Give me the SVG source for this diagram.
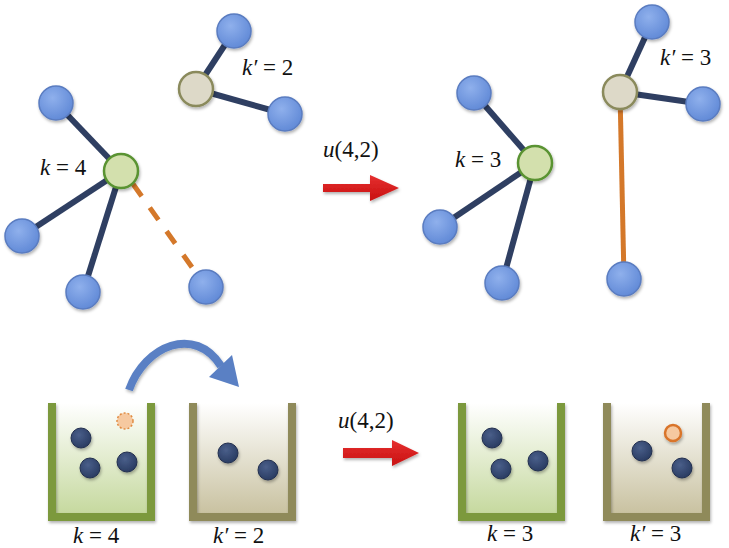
<svg xmlns="http://www.w3.org/2000/svg" width="729" height="548" viewBox="0 0 729 548">
<defs>
<style>
.edge{stroke:#2f3f62;stroke-width:6;fill:none}
.moved{stroke:#d4782a;stroke-width:5;fill:none}
.blue{fill:url(#gBlue);stroke:#5a7cc0;stroke-width:1.5;filter:url(#sh)}
.green{fill:#d3e0ad;stroke:#5a9332;stroke-width:2.5;filter:url(#sh)}
.beige{fill:#ddd9c8;stroke:#8a8a5c;stroke-width:2.5;filter:url(#sh)}
.ball{fill:url(#gBall);stroke:#22304f;stroke-width:1;filter:url(#sh)}
.lbl{font-family:"Liberation Serif","DejaVu Serif",serif;font-size:23px;fill:#111}
.it{font-style:italic}
.wallG{fill:#7b993e;filter:url(#sh)}
.wallO{fill:#8f8a5a;filter:url(#sh)}
.red{fill:url(#gRed);filter:url(#sh)}
</style>
<radialGradient id="gBlue" cx="0.4" cy="0.35" r="0.7">
<stop offset="0" stop-color="#8fb0ec"/>
<stop offset="1" stop-color="#5f88d6"/>
</radialGradient>
<radialGradient id="gBall" cx="0.4" cy="0.35" r="0.7">
<stop offset="0" stop-color="#4a5f8a"/>
<stop offset="1" stop-color="#283a60"/>
</radialGradient>
<linearGradient id="gFillG" x1="0" y1="0" x2="0" y2="1">
<stop offset="0" stop-color="#ffffff"/>
<stop offset="1" stop-color="#c6d99f"/>
</linearGradient>
<linearGradient id="gFillO" x1="0" y1="0" x2="0" y2="1">
<stop offset="0" stop-color="#ffffff"/>
<stop offset="1" stop-color="#c9c2a1"/>
</linearGradient>
<linearGradient id="gRed" x1="0" y1="0" x2="0" y2="1">
<stop offset="0" stop-color="#e63030"/>
<stop offset="1" stop-color="#c81010"/>
</linearGradient>
<filter id="sh" x="-30%" y="-30%" width="160%" height="160%">
<feDropShadow dx="1" dy="2" stdDeviation="1.5" flood-color="#000" flood-opacity="0.3"/>
</filter>
</defs>
<rect width="729" height="548" fill="#ffffff"/>

<g id="connectors">
<line class="edge" x1="196" y1="89" x2="234" y2="31"/>
<line class="edge" x1="196" y1="89" x2="285" y2="114"/>
<line class="edge" x1="121" y1="171" x2="56" y2="103"/>
<line class="edge" x1="121" y1="171" x2="22" y2="236"/>
<line class="edge" x1="121" y1="171" x2="83" y2="292"/>
<line class="moved" x1="133" y1="184" x2="206" y2="287" stroke-dasharray="15,14"/>
<line class="edge" x1="620" y1="92" x2="652" y2="22"/>
<line class="edge" x1="620" y1="92" x2="703" y2="104"/>
<line class="moved" x1="620" y1="92" x2="624" y2="279"/>
<line class="edge" x1="535" y1="163" x2="474" y2="93"/>
<line class="edge" x1="535" y1="163" x2="440" y2="227"/>
<line class="edge" x1="535" y1="163" x2="502" y2="283"/>
</g>

<g id="node-before-kprime">
<circle class="blue" cx="234" cy="31" r="17"/>
<circle class="blue" cx="285" cy="114" r="17"/>
<circle class="beige" cx="196" cy="89" r="17"/>
<text class="lbl" x="242" y="75"><tspan class="it">k′</tspan> = 2</text>
</g>
<g id="node-before-k">
<circle class="blue" cx="56" cy="103" r="17"/>
<circle class="blue" cx="22" cy="236" r="17"/>
<circle class="blue" cx="83" cy="292" r="17"/>
<circle class="blue" cx="206" cy="287" r="17"/>
<circle class="green" cx="121" cy="171" r="17"/>
<text class="lbl" x="40" y="175"><tspan class="it">k</tspan> = 4</text>
</g>
<g id="node-after-k">
<circle class="blue" cx="474" cy="93" r="17"/>
<circle class="blue" cx="440" cy="227" r="17"/>
<circle class="blue" cx="502" cy="283" r="17"/>
<circle class="green" cx="535" cy="163" r="17"/>
<text class="lbl" x="455" y="167"><tspan class="it">k</tspan> = 3</text>
</g>
<g id="node-after-kprime">
<circle class="blue" cx="652" cy="22" r="17"/>
<circle class="blue" cx="703" cy="104" r="17"/>
<circle class="blue" cx="624" cy="279" r="17"/>
<circle class="beige" cx="620" cy="92" r="17"/>
<text class="lbl" x="660" y="65"><tspan class="it">k′</tspan> = 3</text>
</g>

<g id="arrow-top">
<text class="lbl" x="323" y="157"><tspan class="it">u</tspan>(4,2)</text>
<polygon class="red" points="323,184 370,184 370,175 399,188 370,201 370,192 323,192"/>
</g>

<g id="bin-left-before">
<rect x="56" y="403" width="91" height="110" fill="url(#gFillG)"/>
<path class="wallG" d="M48,403 h8 v110 h91 v-110 h8 v118 h-107 z"/>
<circle class="ball" cx="81" cy="438" r="10"/>
<circle class="ball" cx="90" cy="468" r="10"/>
<circle class="ball" cx="127" cy="462" r="10"/>
<circle cx="125" cy="421" r="8" fill="#f6c9a0" stroke="#e08a40" stroke-width="1.5" stroke-dasharray="2,2"/>
<text class="lbl" x="73" y="543"><tspan class="it">k</tspan> = 4</text>
</g>
<g id="bin-right-before">
<rect x="197" y="403" width="91" height="110" fill="url(#gFillO)"/>
<path class="wallO" d="M189,403 h8 v110 h91 v-110 h8 v118 h-107 z"/>
<circle class="ball" cx="228" cy="453" r="10"/>
<circle class="ball" cx="268" cy="470" r="10"/>
<text class="lbl" x="213" y="543"><tspan class="it">k′</tspan> = 2</text>
</g>
<g id="move-arrow">
<path d="M129,390 C145,345 195,325 221,366" fill="none" stroke="#5a80c4" stroke-width="8" filter="url(#sh)"/>
<polygon points="209,377 232,355 239,387" fill="#5a80c4"/>
</g>

<g id="arrow-bottom">
<text class="lbl" x="338" y="428"><tspan class="it">u</tspan>(4,2)</text>
<polygon class="red" points="343,448 392,448 392,440 419,453 392,466 392,458 343,458"/>
</g>

<g id="bin-left-after">
<rect x="466" y="403" width="91" height="110" fill="url(#gFillG)"/>
<path class="wallG" d="M458,403 h8 v110 h91 v-110 h8 v118 h-107 z"/>
<circle class="ball" cx="492" cy="438" r="10"/>
<circle class="ball" cx="501" cy="469" r="10"/>
<circle class="ball" cx="538" cy="461" r="10"/>
<text class="lbl" x="487" y="541"><tspan class="it">k</tspan> = 3</text>
</g>
<g id="bin-right-after">
<rect x="611" y="403" width="91" height="110" fill="url(#gFillO)"/>
<path class="wallO" d="M603,403 h8 v110 h91 v-110 h8 v118 h-107 z"/>
<circle class="ball" cx="642" cy="451" r="10"/>
<circle class="ball" cx="682" cy="468" r="10"/>
<circle cx="673" cy="433" r="8" fill="#f6c9a0" stroke="#d9742a" stroke-width="2.5" filter="url(#sh)"/>
<text class="lbl" x="630" y="541"><tspan class="it">k′</tspan> = 3</text>
</g>
</svg>
